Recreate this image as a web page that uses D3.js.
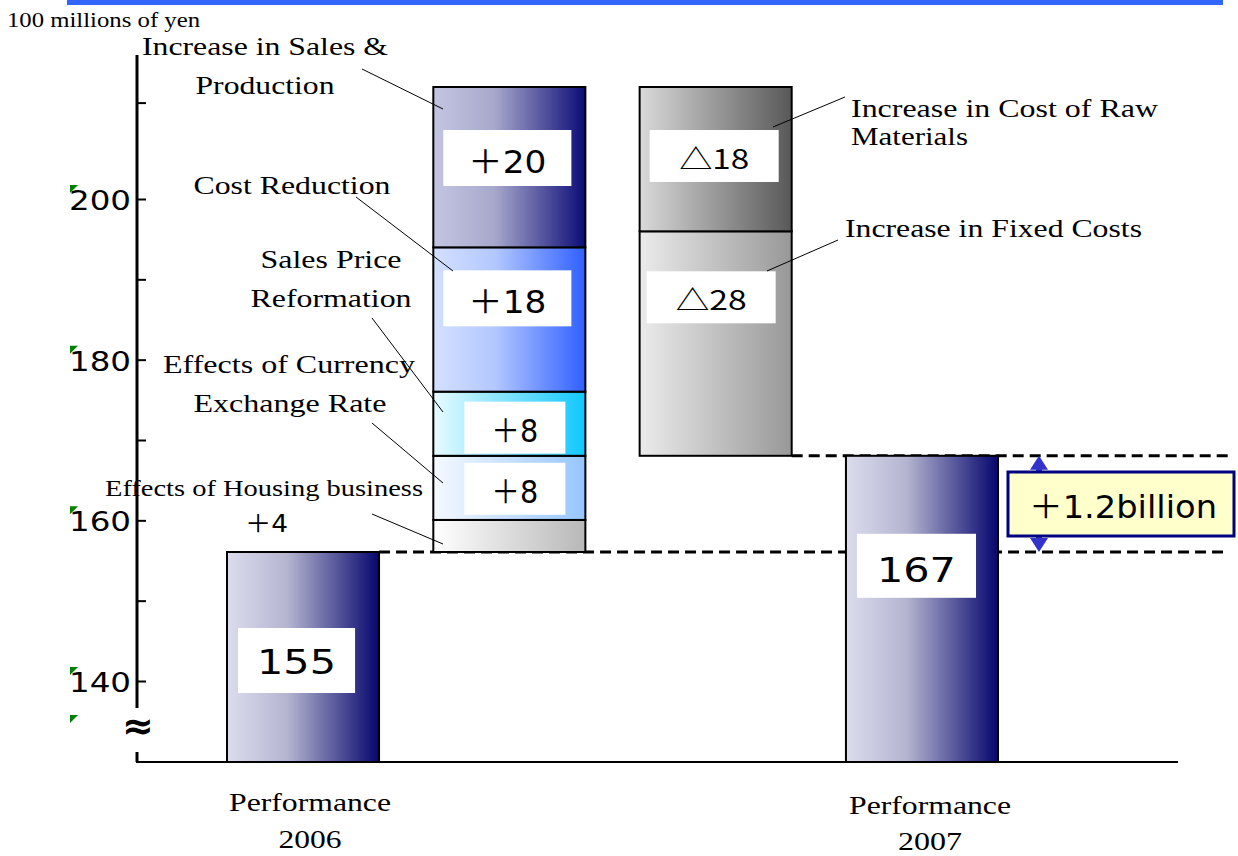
<!DOCTYPE html>
<html>
<head>
   <meta charset="UTF-8">
   <title>Operating income bridge 2006 - 2007</title>
   <script src="https://cdnjs.cloudflare.com/ajax/libs/d3/7.8.5/d3.min.js"></script>
   <style>
       body { margin: 0; overflow: hidden; background: white; }
       .leader { stroke: #000; stroke-width: 1; fill: none; }
   </style>
</head>
<body>
   <div id="chart"></div>
   <script>
       // ---- data ----
       const columns = ["2006", "up", "down", "2007"];
       const categoryLabels = [["Performance", "2006"], ["Performance", "2007"]];
       const startValue = 155;
       const endValue = 167;
       // increases, stacked bottom to top on top of 2006
       const increaseNames = [["Effects of Housing business"], ["Effects of Currency", "Exchange Rate"],
                              ["Sales Price", "Reformation"], ["Cost Reduction"], ["Increase in Sales &", "Production"]];
       const increaseValues = [4, 8, 8, 18, 20];
       const increaseTexts = ["＋4", "＋8", "＋8", "＋18", "＋20"];
       // decreases, stacked bottom to top on top of 2007
       const decreaseNames = [["Increase in Fixed Costs"], ["Increase in Cost of Raw", "Materials"]];
       const decreaseValues = [28, 18];
       const decreaseTexts = ["△28", "△18"];
       const majorTicks = [140, 160, 180, 200];
       const minorTicks = [150, 170, 190, 212];
       const unitLabel = "100 millions of yen";
       const diffLabel = "＋1.2billion";

       const SERIF = "'Liberation Serif', Tinos, 'Times New Roman', Times, serif";
       const SANS = "'DejaVu Sans', 'Noto Sans CJK JP', sans-serif";
       const CJK = "'Noto Sans CJK JP', 'DejaVu Sans', sans-serif";

       const width = 1238, height = 856;
       const svg = d3.select("#chart").append("svg")
           .attr("width", width).attr("height", height);
       const defs = svg.append("defs");

       const x = d3.scaleBand().domain(columns).range([227, 998]).paddingInner(0.263).paddingOuter(0);
       const y = d3.scaleLinear().domain([155, 213]).range([552, 87]);
       const yAxis = d3.scaleLinear().domain([140, 200]).range([681, 199]);
       const baseY = 762, axisX = 137;

       function grad(id, stops) {
           const g = defs.append("linearGradient").attr("id", id)
               .attr("x1", "0%").attr("x2", "100%").attr("y1", "0%").attr("y2", "0%");
           stops.forEach(s => g.append("stop").attr("offset", s[0]).attr("stop-color", s[1]));
           return `url(#${id})`;
       }
       const fillNavy = grad("gNavy", [["0%", "#dcdcee"], ["40%", "#b4b4d0"], ["100%", "#06066e"]]);
       const upFills = [
           grad("gHouse", [["0%", "#ffffff"], ["100%", "#b8b8b8"]]),
           grad("gCur", [["0%", "#f6f9ff"], ["100%", "#96c6ff"]]),
           grad("gPrice", [["0%", "#e8fbff"], ["100%", "#10c8ff"]]),
           grad("gCost", [["0%", "#d4e0ff"], ["40%", "#b4c8ff"], ["100%", "#3060ff"]]),
           grad("gSales", [["0%", "#c4c4e2"], ["40%", "#a8a8cc"], ["100%", "#0c0c78"]])
       ];
       const downFills = [
           grad("gFixed", [["0%", "#ebebeb"], ["100%", "#989898"]]),
           grad("gRaw", [["0%", "#dadada"], ["100%", "#585858"]])
       ];

       // top blue rule
       svg.append("rect").attr("x", 67).attr("y", 0).attr("width", 1156).attr("height", 5).attr("fill", "#3366ff");

       svg.append("text").attr("font-family", SERIF).attr("x", 7).attr("y", 27)
           .attr("font-size", 20).attr("textLength", 193).attr("lengthAdjust", "spacingAndGlyphs")
           .text(unitLabel);

       // ---- axis ----
       const gAxis = svg.append("g").attr("transform", `translate(${axisX},0)`);
       gAxis.call(d3.axisLeft(yAxis).tickValues(majorTicks).tickSize(-9).tickSizeOuter(0).tickPadding(6));
       gAxis.call(g => g.select(".domain").remove());
       gAxis.selectAll(".tick line").attr("stroke", "#000").attr("stroke-width", 2);
       gAxis.selectAll(".tick text").attr("fill", "#000").attr("font-family", SANS)
           .attr("font-size", 27).attr("dy", "0.39em")
           .attr("textLength", 62).attr("lengthAdjust", "spacingAndGlyphs");
       const gMinor = svg.append("g").attr("transform", `translate(${axisX},0)`);
       gMinor.call(d3.axisLeft(yAxis).tickValues(minorTicks).tickSize(-9).tickSizeOuter(0).tickFormat(""));
       gMinor.select(".domain").remove();
       gMinor.selectAll(".tick line").attr("stroke", "#000").attr("stroke-width", 2);

       // green corner marks on the tick labels
       const markYs = majorTicks.map(v => yAxis(v) - 14).concat([715]);
       svg.selectAll(".mark").data(markYs).enter().append("path")
           .attr("d", d => `M70,${d}L78,${d}L70,${d + 8}Z`).attr("fill", "#008000");

       svg.append("line").attr("x1", axisX).attr("x2", axisX).attr("y1", 55).attr("y2", 708)
           .attr("stroke", "#000").attr("stroke-width", 3);
       svg.append("line").attr("x1", axisX).attr("x2", axisX).attr("y1", 752).attr("y2", baseY)
           .attr("stroke", "#000").attr("stroke-width", 3);
       svg.append("text").attr("font-family", SANS).attr("x", 122).attr("y", 739)
           .attr("font-size", 38).attr("font-weight", "bold").text("≈");
       svg.append("line").attr("x1", axisX - 1).attr("x2", 1178).attr("y1", baseY).attr("y2", baseY)
           .attr("stroke", "#000").attr("stroke-width", 2);

       // ---- dashed guides + difference ----
       svg.append("line").attr("x1", x("2006") + x.bandwidth()).attr("x2", 1228)
           .attr("y1", y(startValue)).attr("y2", y(startValue))
           .attr("stroke", "#000").attr("stroke-width", 3).attr("stroke-dasharray", "11,6");
       svg.append("line").attr("x1", x("down") + x.bandwidth()).attr("x2", 1228)
           .attr("y1", y(endValue)).attr("y2", y(endValue))
           .attr("stroke", "#000").attr("stroke-width", 3).attr("stroke-dasharray", "11,6");

       const ax = 1039, a0 = y(endValue), a1 = y(startValue);
       svg.append("line").attr("x1", ax).attr("x2", ax).attr("y1", a0 + 10).attr("y2", a1 - 10)
           .attr("stroke", "#3333cc").attr("stroke-width", 6);
       svg.append("path").attr("d", `M${ax},${a0}L${ax + 9},${a0 + 14}L${ax - 9},${a0 + 14}Z`).attr("fill", "#3333cc");
       svg.append("path").attr("d", `M${ax},${a1}L${ax + 9},${a1 - 14}L${ax - 9},${a1 - 14}Z`).attr("fill", "#3333cc");
       svg.append("rect").attr("x", 1008).attr("y", 472).attr("width", 226).attr("height", 64)
           .attr("fill", "#ffffcc").attr("stroke", "#000080").attr("stroke-width", 3);
       svg.append("text").attr("font-family", SANS).attr("x", 1029).attr("y", 518)
           .attr("font-size", 32).attr("textLength", 188).attr("lengthAdjust", "spacingAndGlyphs")
           .text(diffLabel);

       // ---- bars ----
       const bw = x.bandwidth();
       function bar(col, v0, v1, fill) {
           svg.append("rect").attr("x", x(col)).attr("y", y(v1)).attr("width", bw)
               .attr("height", (v0 === null ? baseY : y(v0)) - y(v1))
               .attr("fill", fill).attr("stroke", "#000").attr("stroke-width", 2);
       }
       function box(col, top, b) {
           svg.append("rect").attr("x", x(col) + b.l).attr("y", top + b.t)
               .attr("width", bw - b.l - b.r).attr("height", b.h).attr("fill", "#fff");
           svg.append("text").attr("font-family", b.font || SANS).attr("x", x(col) + b.l + (bw - b.l - b.r) / 2)
               .attr("y", top + b.t + b.base).attr("text-anchor", "middle")
               .attr("font-size", b.fs).attr("textLength", b.len).attr("lengthAdjust", "spacingAndGlyphs")
               .text(b.text);
       }

       bar("2006", null, startValue, fillNavy);
       box("2006", y(startValue), {l: 11, r: 24, t: 76, h: 65, base: 46, fs: 33, len: 79, text: String(startValue)});
       bar("2007", null, endValue, fillNavy);
       box("2007", y(endValue), {l: 11, r: 22, t: 78, h: 64, base: 48, fs: 33, len: 79, text: String(endValue)});

       const upBoxes = [null,
           {l: 31, r: 20, t: 7, h: 52, base: 40, fs: 32, len: 47},
           {l: 31, r: 20, t: 10, h: 52, base: 40, fs: 32, len: 47},
           {l: 10, r: 14, t: 23, h: 56, base: 43, fs: 32, len: 78},
           {l: 10, r: 14, t: 43, h: 56, base: 43, fs: 32, len: 78}];
       let acc = startValue;
       increaseValues.forEach((v, i) => {
           bar("up", acc, acc + v, upFills[i]);
           if (upBoxes[i]) box("up", y(acc + v), Object.assign({text: increaseTexts[i]}, upBoxes[i]));
           acc += v;
       });
       const downBoxes = [
           {l: 7, r: 16, t: 40, h: 52, base: 39, fs: 27, len: 71, font: CJK},
           {l: 10, r: 13, t: 43, h: 52, base: 39, fs: 27, len: 70, font: CJK}];
       acc = endValue;
       decreaseValues.forEach((v, i) => {
           bar("down", acc, acc + v, downFills[i]);
           box("down", y(acc + v), Object.assign({text: decreaseTexts[i]}, downBoxes[i]));
           acc += v;
       });

       // housing +4 sits outside the bar
       svg.append("text").attr("font-family", SANS).attr("x", 245).attr("y", 532)
           .attr("font-size", 24).attr("textLength", 43).attr("lengthAdjust", "spacingAndGlyphs")
           .text(increaseTexts[0]);

       // ---- annotations ----
       function label(lines, xs, ys, lens, fs, anchor) {
           lines.forEach((t, i) => {
               svg.append("text").attr("font-family", SERIF).attr("x", xs[i]).attr("y", ys[i])
                   .attr("text-anchor", anchor || "middle").attr("font-size", fs)
                   .attr("textLength", lens[i]).attr("lengthAdjust", "spacingAndGlyphs").text(t);
           });
       }
       label(increaseNames[4], [265, 265], [55, 94], [246, 139], 26);
       label(increaseNames[3], [292, 0], [194], [197], 26);
       label(increaseNames[2], [331, 331], [268, 307], [141, 161], 26);
       label(increaseNames[1], [289, 290], [373, 412], [252, 193], 26);
       label(increaseNames[0], [264], [496], [318], 23);
       label(decreaseNames[1], [851, 851], [117, 145], [307, 117], 26, "start");
       label(decreaseNames[0], [845], [237], [297], 26, "start");
       label(categoryLabels[0], [310, 310], [811, 848], [162, 63], 26);
       label(categoryLabels[1], [930, 930], [814, 850], [162, 64], 26);

       const leaders = [
           [362, 69, 443, 109], [356, 197, 453, 271], [372, 318, 443, 412],
           [372, 423, 443, 483], [372, 514, 443, 544], [845, 97, 773, 127], [838, 240, 767, 271]];
       svg.selectAll(".leader").data(leaders).enter().append("line").attr("class", "leader")
           .attr("x1", d => d[0]).attr("y1", d => d[1]).attr("x2", d => d[2]).attr("y2", d => d[3]);
   </script>
</body>
</html>
